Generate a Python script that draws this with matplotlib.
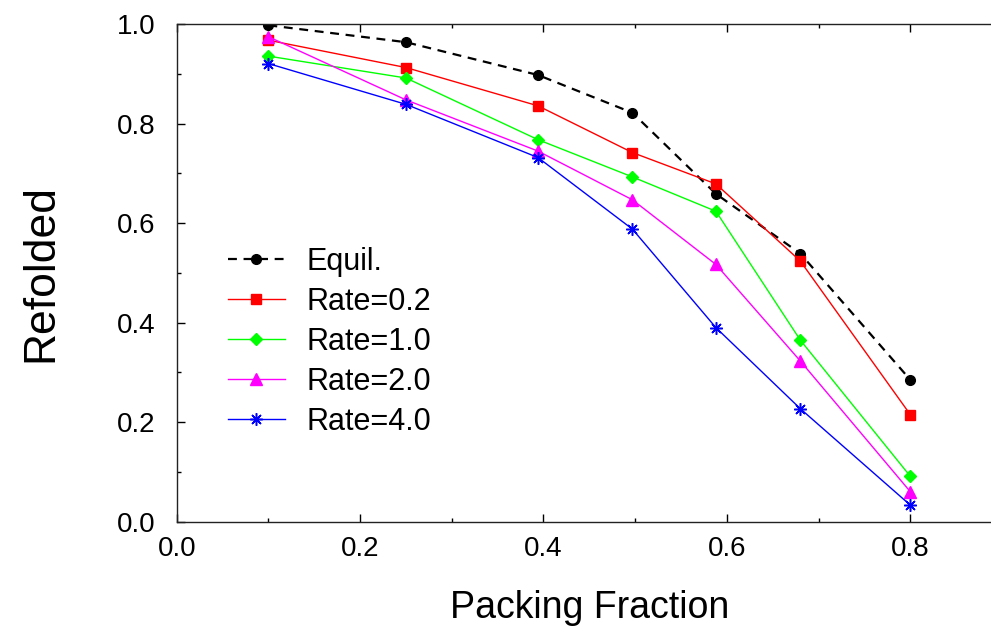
import matplotlib
matplotlib.use("Agg")
import matplotlib.pyplot as plt
from matplotlib.ticker import MultipleLocator

# packing fraction values and refolded fraction for each series
packing = [0.1, 0.25, 0.394, 0.497, 0.588, 0.680, 0.8]
equil = [0.998, 0.964, 0.898, 0.822, 0.659, 0.539, 0.285]
rate_02 = [0.968, 0.913, 0.836, 0.742, 0.679, 0.524, 0.215]
rate_10 = [0.936, 0.892, 0.768, 0.693, 0.624, 0.365, 0.091]
rate_20 = [0.975, 0.848, 0.745, 0.647, 0.517, 0.323, 0.060]
rate_40 = [0.921, 0.839, 0.732, 0.588, 0.390, 0.227, 0.033]

plt.rcParams['font.family'] = ['Liberation Sans', 'DejaVu Sans']

fig = plt.figure(figsize=(9.91, 6.26), dpi=100)
# the right side of the original plot box is cut off by the image edge
ax = fig.add_axes([0.1783, 0.1669, 0.8328, 0.7943])

ax.plot(packing, equil, color='black', lw=1.6, ls=(0, (4, 3)),
        marker='o', ms=7, label='Equil.')
ax.plot(packing, rate_02, color='#ff0000', lw=1.0,
        marker='s', ms=7.5, label='Rate=0.2')
ax.plot(packing, rate_10, color='#00ff00', lw=1.0,
        marker='D', ms=6, label='Rate=1.0')
ax.plot(packing, rate_20, color='#ff00ff', lw=1.0,
        marker='^', ms=8.5, label='Rate=2.0')
ax.plot(packing, rate_40, color='#0000ff', lw=1.0,
        marker=(8, 2, 0), ms=9, mew=1.1, label='Rate=4.0')

ax.set_xlim(0, 0.9)
ax.set_ylim(0, 1.0)
ax.xaxis.set_major_locator(MultipleLocator(0.2))
ax.xaxis.set_minor_locator(MultipleLocator(0.1))
ax.yaxis.set_major_locator(MultipleLocator(0.2))
ax.yaxis.set_minor_locator(MultipleLocator(0.1))
ax.set_xticks([0.0, 0.2, 0.4, 0.6, 0.8])
ax.set_xticklabels(['0.0', '0.2', '0.4', '0.6', '0.8'])
ax.set_yticklabels(['%.1f' % v for v in ax.get_yticks()])

ax.tick_params(which='both', direction='in', top=True, right=False,
               labelsize=20, width=1.0)
ax.tick_params(which='major', length=5.5)
ax.tick_params(which='minor', length=3)
ax.tick_params(axis='x', which='major', pad=10.5)
ax.tick_params(axis='y', which='major', pad=15)
ax.spines['right'].set_visible(False)
for s in ['left', 'bottom', 'top']:
    ax.spines[s].set_linewidth(1.0)
    ax.spines[s].set_color('#222222')

ax.set_xlabel('Packing Fraction', fontsize=27, labelpad=20)
ax.set_ylabel('Refolded', fontsize=32, labelpad=40)

ax.legend(loc='upper left', bbox_to_anchor=(0.062, 0.553), frameon=False,
          fontsize=22, handlelength=1.87, handletextpad=0.69,
          labelspacing=0.33, borderpad=0, borderaxespad=0)

plt.savefig('out.png', dpi=100)
